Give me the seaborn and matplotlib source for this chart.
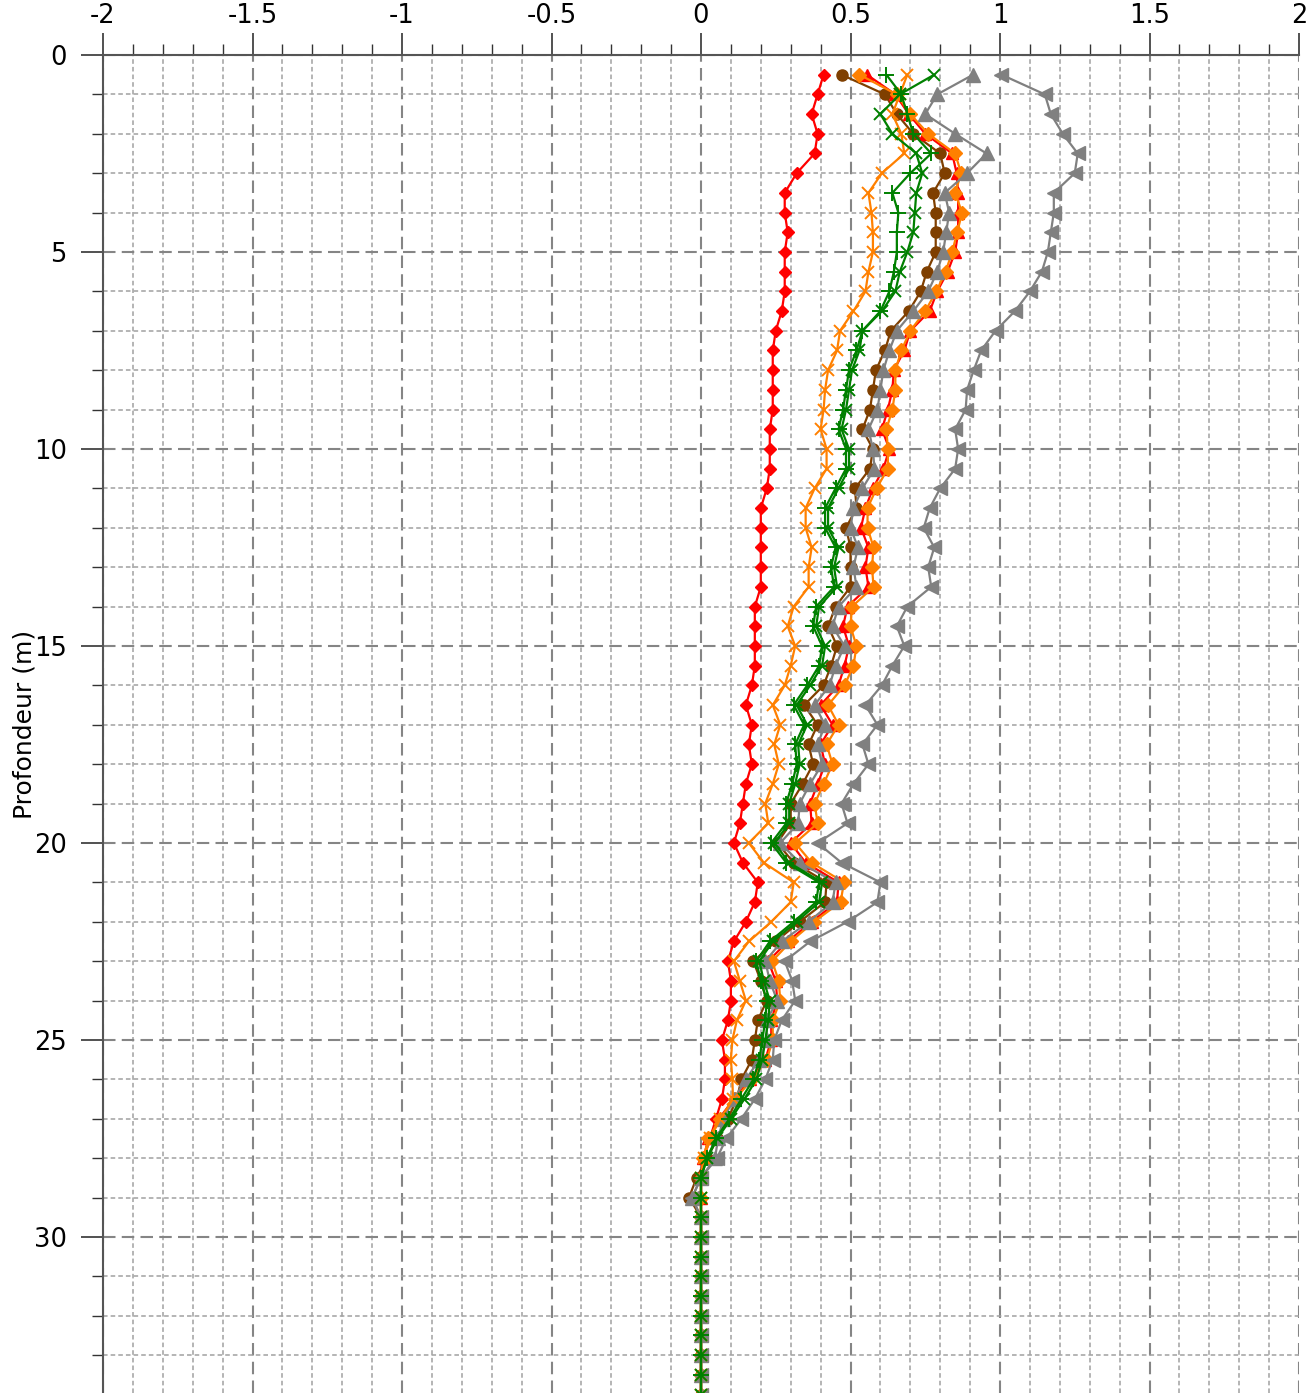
import numpy as np
import pandas as pd
import matplotlib
matplotlib.use("Agg")
import matplotlib.pyplot as plt
from matplotlib.ticker import MultipleLocator, FixedLocator
import seaborn as sns

# ---------------- data ----------------
depth = [0.5 * i for i in range(1, 69)]  # 0.5 ... 34.0 m
tail_zeros = [0.0] * 10                   # 29.5 ... 34.0 m

red_diamond = [0.41, 0.39, 0.37, 0.39, 0.38, 0.32, 0.28, 0.28, 0.29, 0.28, 0.28, 0.28, 0.27, 0.25,
               0.24, 0.24, 0.24, 0.24, 0.23, 0.23, 0.23, 0.22, 0.20, 0.20, 0.20, 0.20, 0.20,
               0.18, 0.18, 0.18, 0.18, 0.17, 0.15, 0.17, 0.16, 0.17, 0.15, 0.14, 0.13, 0.11, 0.14,
               0.19, 0.18, 0.15, 0.11, 0.09, 0.10, 0.10, 0.09, 0.07, 0.08, 0.08, 0.07, 0.05, 0.03, 0.01, 0.0, 0.0] + tail_zeros

brown_circle = [0.47, 0.615, 0.655, 0.71, 0.80, 0.815, 0.776, 0.785, 0.785, 0.785, 0.755, 0.735, 0.695, 0.635,
                0.615, 0.585, 0.575, 0.565, 0.54, 0.575, 0.565, 0.515, 0.52, 0.485, 0.50, 0.50, 0.50,
                0.45, 0.425, 0.455, 0.435, 0.41, 0.345, 0.39, 0.36, 0.375, 0.34, 0.30, 0.30, 0.255, 0.31,
                0.42, 0.415, 0.33, 0.25, 0.175, 0.20, 0.22, 0.19, 0.18, 0.17, 0.135, 0.12, 0.09, 0.055, 0.02, -0.015, -0.04] + tail_zeros

red_triangle = [0.555, 0.65, 0.695, 0.75, 0.84, 0.855, 0.86, 0.86, 0.86, 0.85, 0.825, 0.79, 0.765, 0.70,
                0.68, 0.645, 0.64, 0.625, 0.605, 0.63, 0.61, 0.575, 0.55, 0.535, 0.56, 0.55, 0.56,
                0.49, 0.475, 0.495, 0.48, 0.46, 0.40, 0.44, 0.40, 0.415, 0.39, 0.365, 0.37, 0.30, 0.35,
                0.46, 0.455, 0.37, 0.29, 0.225, 0.25, 0.255, 0.235, 0.235, 0.215, 0.165, 0.11, 0.06, 0.025, 0.008, 0.0, 0.0] + tail_zeros

orange_diamond = [0.53, 0.655, 0.70, 0.76, 0.85, 0.87, 0.85, 0.873, 0.857, 0.84, 0.818, 0.787, 0.75, 0.70,
                  0.67, 0.65, 0.65, 0.64, 0.62, 0.625, 0.625, 0.587, 0.557, 0.557, 0.577, 0.572, 0.577,
                  0.505, 0.50, 0.52, 0.51, 0.48, 0.425, 0.46, 0.42, 0.44, 0.41, 0.38, 0.39, 0.315, 0.37,
                  0.478, 0.467, 0.378, 0.30, 0.238, 0.26, 0.265, 0.24, 0.24, 0.22, 0.17, 0.115, 0.063, 0.025, 0.008, 0.0, 0.0] + tail_zeros

gray_up = [0.91, 0.79, 0.75, 0.85, 0.955, 0.89, 0.815, 0.83, 0.82, 0.81, 0.79, 0.76, 0.71, 0.655,
           0.63, 0.61, 0.60, 0.59, 0.56, 0.575, 0.58, 0.54, 0.51, 0.50, 0.525, 0.51, 0.52,
           0.46, 0.44, 0.48, 0.45, 0.43, 0.38, 0.415, 0.39, 0.405, 0.365, 0.33, 0.325, 0.265, 0.33,
           0.45, 0.44, 0.36, 0.27, 0.215, 0.23, 0.255, 0.22, 0.22, 0.195, 0.15, 0.11, 0.075, 0.057, 0.047, 0.0, -0.03] + tail_zeros

gray_left = [1.005, 1.15, 1.17, 1.21, 1.26, 1.25, 1.18, 1.18, 1.17, 1.16, 1.14, 1.10, 1.05, 0.985,
             0.937, 0.912, 0.89, 0.885, 0.85, 0.86, 0.85, 0.80, 0.765, 0.745, 0.78, 0.76, 0.77,
             0.69, 0.655, 0.68, 0.64, 0.605, 0.55, 0.59, 0.54, 0.56, 0.51, 0.47, 0.49, 0.39, 0.47,
             0.60, 0.59, 0.49, 0.365, 0.28, 0.305, 0.315, 0.27, 0.245, 0.24, 0.215, 0.18, 0.135, 0.085, 0.053, 0.0, -0.03] + tail_zeros

orange_x = [0.69, 0.665, 0.64, 0.67, 0.68, 0.605, 0.56, 0.57, 0.575, 0.575, 0.56, 0.55, 0.51, 0.465,
            0.455, 0.425, 0.415, 0.41, 0.40, 0.42, 0.42, 0.38, 0.35, 0.35, 0.37, 0.36, 0.36,
            0.31, 0.29, 0.315, 0.30, 0.28, 0.24, 0.265, 0.245, 0.26, 0.24, 0.215, 0.225, 0.16, 0.21,
            0.31, 0.30, 0.235, 0.16, 0.11, 0.13, 0.15, 0.12, 0.105, 0.10, 0.105, 0.107, 0.065, 0.03, 0.01, 0.0, 0.0] + tail_zeros

green_plus = [0.62, 0.67, 0.69, 0.71, 0.77, 0.70, 0.64, 0.66, 0.655, 0.655, 0.645, 0.63, 0.60, 0.54,
              0.52, 0.495, 0.485, 0.475, 0.46, 0.485, 0.485, 0.45, 0.415, 0.415, 0.45, 0.435, 0.445,
              0.385, 0.375, 0.405, 0.395, 0.355, 0.31, 0.345, 0.315, 0.32, 0.305, 0.285, 0.285, 0.235, 0.285,
              0.395, 0.385, 0.31, 0.23, 0.185, 0.20, 0.22, 0.215, 0.205, 0.195, 0.175, 0.135, 0.095, 0.05, 0.02, 0.0, 0.0] + tail_zeros

green_x = [0.78, 0.665, 0.60, 0.64, 0.72, 0.74, 0.72, 0.715, 0.71, 0.69, 0.665, 0.65, 0.605, 0.54,
           0.53, 0.505, 0.495, 0.485, 0.47, 0.495, 0.495, 0.46, 0.425, 0.425, 0.46, 0.445, 0.455,
           0.395, 0.385, 0.415, 0.405, 0.365, 0.32, 0.355, 0.325, 0.33, 0.315, 0.295, 0.295, 0.245, 0.295,
           0.405, 0.395, 0.32, 0.24, 0.195, 0.21, 0.23, 0.225, 0.215, 0.205, 0.185, 0.145, 0.10, 0.055, 0.02, 0.0, 0.0] + tail_zeros

x_ticks = [-2, -1.5, -1, -0.5, 0, 0.5, 1, 1.5, 2]
x_tick_labels = ["-2", "-1.5", "-1", "-0.5", "0", "0.5", "1", "1.5", "2"]
y_ticks = [0, 5, 10, 15, 20, 25, 30]
y_label = "Profondeur (m)"

# ---------------- figure ----------------
sns.set_theme(style="white")
plt.rcParams["font.family"] = ["DejaVu Sans"]

fig = plt.figure(figsize=(13.14, 13.93), dpi=100)
ax = fig.add_axes([103 / 1314, 0.0, (1299 - 103) / 1314, 1338 / 1393])

series = [
    (red_diamond, "#FF0000", "D", 6.5, 1.0),
    (brown_circle, "#7F3F00", "o", 8, 1.0),
    (red_triangle, "#FF0000", "^", 8, 1.0),
    (orange_diamond, "#FF8000", "D", 7, 1.0),
    (gray_up, "#808080", "^", 9.5, 1.0),
    (gray_left, "#808080", "<", 9.5, 1.0),
    (orange_x, "#FF8000", "x", 9, 1.4),
    (green_plus, "#008000", "+", 11, 1.4),
    (green_x, "#008000", "x", 9, 1.4),
]

for i, (vals, col, mk, ms, mew) in enumerate(series):
    df = pd.DataFrame({"val": vals, "depth": depth})
    sns.lineplot(data=df, x="val", y="depth", ax=ax, sort=False, estimator=None,
                 color=col, lw=1.6, marker=mk, markersize=ms,
                 markeredgecolor=col, markerfacecolor=col, markeredgewidth=mew,
                 zorder=3 + i, legend=False)

ax.set_xlim(-2, 2)
ax.set_ylim(33.96, 0)

ax.xaxis.tick_top()
ax.xaxis.set_label_position("top")
ax.xaxis.set_major_locator(FixedLocator(x_ticks))
ax.set_xticklabels(x_tick_labels)
ax.xaxis.set_minor_locator(MultipleLocator(0.1))
ax.yaxis.set_major_locator(FixedLocator(y_ticks))
ax.yaxis.set_minor_locator(MultipleLocator(1))

ax.tick_params(axis="x", which="major", direction="out", length=16, width=1.2,
               colors="#333333", labelsize=18.5, labelcolor="black", pad=2.5,
               top=True, bottom=False, labeltop=True, labelbottom=False)
ax.tick_params(axis="x", which="minor", direction="out", length=8, width=1,
               colors="#333333", top=True, bottom=False)
ax.tick_params(axis="y", which="major", direction="out", length=16, width=1.2,
               colors="#333333", labelsize=18.5, labelcolor="black", pad=10,
               left=True, right=False)
ax.tick_params(axis="y", which="minor", direction="out", length=8, width=1,
               colors="#333333", left=True, right=False)

ax.grid(True, which="major", color="#858585", linestyle=(0, (6, 3)), linewidth=1.5, zorder=0)
ax.grid(True, which="minor", color="#a0a0a0", linestyle=(0, (3, 2)), linewidth=1.1, zorder=0)
ax.set_axisbelow(True)

for side in ["right", "bottom"]:
    ax.spines[side].set_visible(False)
for side in ["top", "left"]:
    ax.spines[side].set_visible(True)
    ax.spines[side].set_color("#555555")
    ax.spines[side].set_linewidth(1.5)

ax.set_xlabel("")
ax.set_ylabel(y_label, fontsize=18, color="black")
ax.yaxis.set_label_coords(-0.056, 0.5)
ax.patch.set_facecolor("white")

fig.savefig("out.png", dpi=100, facecolor="white")
